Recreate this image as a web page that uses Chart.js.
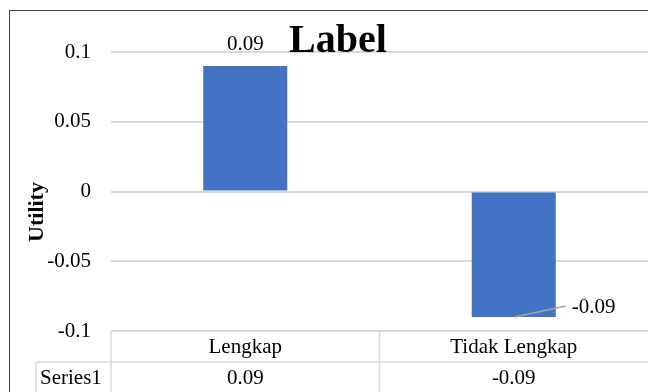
<!DOCTYPE html>
<html>
<head>
<meta charset="utf-8">
<script src="https://cdn.jsdelivr.net/npm/chart.js@4/dist/chart.umd.min.js"></script>
<style>
  html, body { margin: 0; padding: 0; background: #fff; }
  #chart { display: block; }
</style>
</head>
<body>
<canvas id="chart" width="648" height="392"></canvas>
<script>
// data
const categories = ['Lengkap', 'Tidak Lengkap'];
const seriesName = 'Series1';
const utility = [0.09, -0.09];
const yTicks = [-0.1, -0.05, 0, 0.05, 0.1];
const chartTitle = 'Label';
const yTitle = 'Utility';

const SERIF = '"Liberation Serif", "Times New Roman", serif';
const GRID = '#d9d9d9';

// draws the title, value labels, data table and outer frame, Excel style
const excelExtras = {
  id: 'excelExtras',
  afterDraw(chart) {
    const { ctx, chartArea } = chart;
    const xs = chart.scales.x;
    const bars = chart.getDatasetMeta(0).data;
    const left = chartArea.left;
    const top = chartArea.bottom;
    const rowH = 31;
    const W = chart.width;

    ctx.save();

    // title
    ctx.fillStyle = '#000';
    ctx.font = 'bold 40px ' + SERIF;
    ctx.textAlign = 'center';
    ctx.textBaseline = 'alphabetic';
    ctx.fillText(chartTitle, 338, 52);

    // y axis title
    ctx.save();
    ctx.translate(37, 212);
    ctx.rotate(-Math.PI / 2);
    ctx.font = 'bold 22px ' + SERIF;
    ctx.textBaseline = 'middle';
    ctx.fillText(yTitle, 0, 0);
    ctx.restore();

    // value labels
    ctx.font = '21px ' + SERIF;
    ctx.textBaseline = 'middle';
    bars.forEach((bar, i) => {
      const txt = utility[i].toFixed(2);
      if (utility[i] >= 0) {
        ctx.textAlign = 'center';
        ctx.fillText(txt, bar.x, bar.y - 21);
      } else {
        // leader line out to the right
        ctx.strokeStyle = '#a6a6a6';
        ctx.lineWidth = 1.5;
        ctx.beginPath();
        ctx.moveTo(bar.x + 1, bar.y);
        ctx.lineTo(bar.x + 52, bar.y - 11);
        ctx.stroke();
        ctx.textAlign = 'left';
        ctx.fillText(txt, bar.x + 58, bar.y - 10);
      }
    });

    // data table
    ctx.strokeStyle = GRID;
    ctx.lineWidth = 1.5;
    const hl = (x1, x2, y) => { ctx.beginPath(); ctx.moveTo(x1, y); ctx.lineTo(x2, y); ctx.stroke(); };
    const vl = (x, y1, y2) => { ctx.beginPath(); ctx.moveTo(x, y1); ctx.lineTo(x, y2); ctx.stroke(); };
    hl(left, W, top);
    hl(36, W, top + rowH);
    vl(left, top, top + 2 * rowH + 5);
    vl(36, top + rowH, top + 2 * rowH + 5);
    const mid = (xs.getPixelForValue(0) + xs.getPixelForValue(1)) / 2;
    vl(mid, top, top + 2 * rowH + 5);

    ctx.fillStyle = '#000';
    ctx.font = '21px ' + SERIF;
    ctx.textAlign = 'center';
    categories.forEach((c, i) => {
      const x = xs.getPixelForValue(i);
      ctx.fillText(c, x, top + rowH / 2 + 1);
      ctx.fillText(utility[i].toFixed(2), x, top + rowH * 1.5 + 1);
    });
    ctx.textAlign = 'left';
    ctx.fillText(seriesName, 40, top + rowH * 1.5 + 1);

    // outer frame
    ctx.strokeStyle = '#404040';
    ctx.lineWidth = 1;
    ctx.strokeRect(9.5, 10.5, W + 20, 500);

    ctx.restore();
  }
};

new Chart(document.getElementById('chart'), {
  type: 'bar',
  data: {
    labels: categories,
    datasets: [{
      label: seriesName,
      data: utility,
      backgroundColor: '#4472c4',
      borderWidth: 0,
      categoryPercentage: 1,
      barPercentage: 0.313,
    }],
  },
  options: {
    responsive: false,
    devicePixelRatio: 1,
    animation: false,
    layout: { padding: { top: 52, bottom: 61, left: 0, right: 0 } },
    plugins: {
      legend: { display: false },
      title: { display: false },
      tooltip: { enabled: false },
    },
    scales: {
      x: { display: false },
      y: {
        min: -0.1,
        max: 0.1,
        afterFit(scale) { scale.width = 111; },
        afterBuildTicks(scale) { scale.ticks = yTicks.map(v => ({ value: v })); },
        ticks: {
          padding: 20,
          color: '#000',
          font: { family: SERIF, size: 21 },
          callback: v => String(v),
        },
        grid: { color: GRID, lineWidth: 2, drawTicks: false },
        border: { display: false },
      },
    },
  },
  plugins: [excelExtras],
});
</script>
</body>
</html>
